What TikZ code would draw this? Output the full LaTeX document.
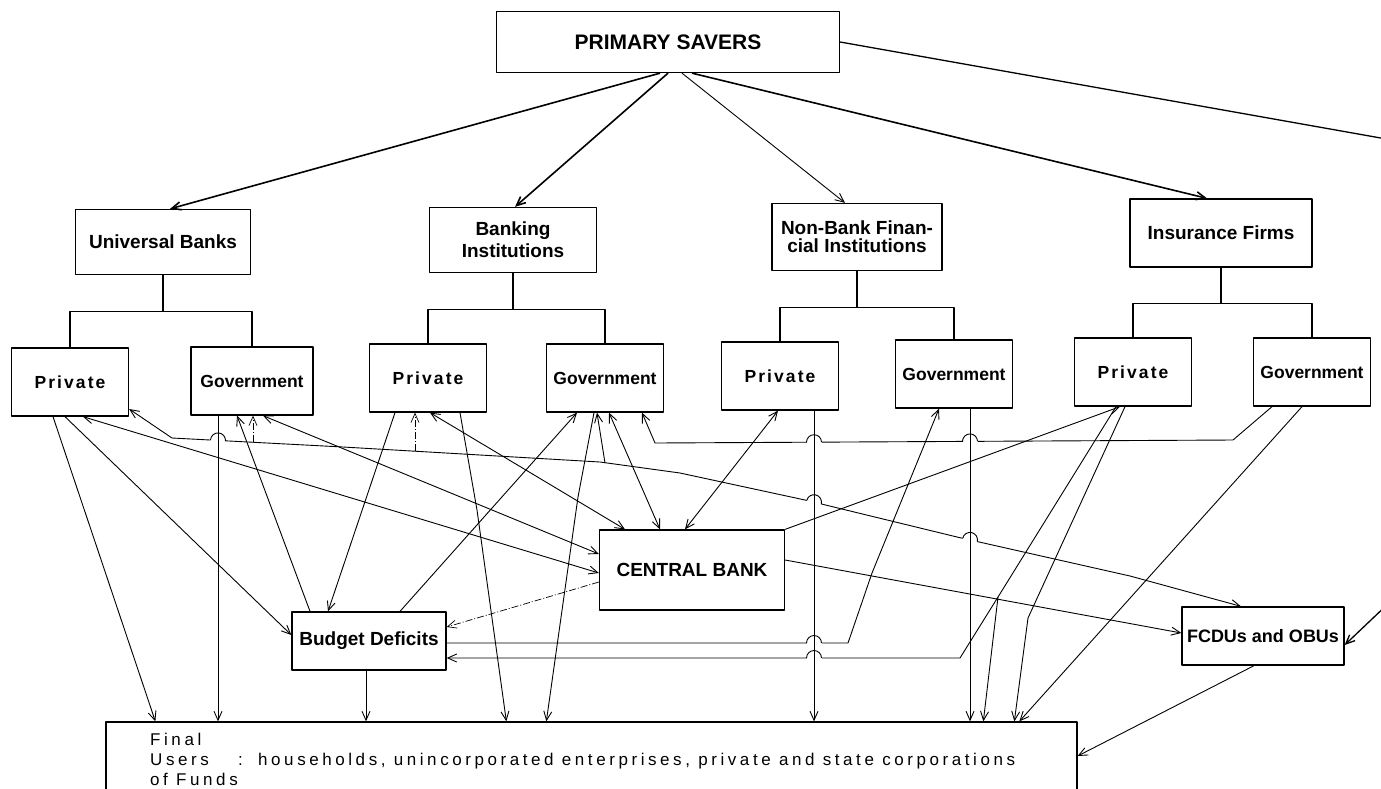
\documentclass[tikz,border=0pt]{standalone}
\usepackage{fontspec}
\setmainfont{Liberation Sans}
\newfontfamily\spaced[LetterSpace=21]{Liberation Sans}
\newfontfamily\airy[LetterSpace=12]{Liberation Sans}
\usetikzlibrary{arrows.meta}

% parent box split into its two halves
\newcommand{\branch}[3]{%
  \draw[tree] (#1.south) -- ++(0,36) coordinate (#1j);
  \draw[tree] (#2.north) |- (#1j) -| (#3.north);}
% line hop over a crossing
\newcommand{\hop}[3]{%
  \begin{scope}[shift={(#1,#2)},rotate=#3]
    \fill[white] (-7.5pt,-1.3pt) rectangle (7.5pt,1.3pt);
    \draw[line width=0.9pt] (-7.5pt,0pt) arc[start angle=180,end angle=0,radius=7.5pt];
  \end{scope}}

\begin{document}
\begin{tikzpicture}[x=1pt,y=-1pt,>={Straight Barb[length=9pt,width=8pt]},
                    line join=round,
                    box/.style={draw,line width=1.3pt,inner sep=0pt,align=center,
                                font=\fontsize{19}{18}\selectfont\bfseries},
                    sub/.style={box,minimum width=117pt,minimum height=68pt,
                                font=\fontsize{17.5}{20}\selectfont\bfseries},
                    lbl/.style={inner sep=0pt,anchor=base west,
                                font=\fontsize{17}{18}\selectfont\spaced},
                    tree/.style={line width=1.3pt},
                    feed/.style={->,line width=1.6pt},
                    flow/.style={->,line width=0.9pt},
                    both/.style={<->,line width=0.9pt},
                    faint/.style={->,line width=0.7pt,
                                  dash pattern=on 7pt off 2pt on 1pt off 2pt}]
  \useasboundingbox (0,0) rectangle (1381,788);

  \node[box,minimum width=343pt,minimum height=61pt,
        font=\fontsize{21}{24}\selectfont\bfseries] (ps) at (668,42) {PRIMARY SAVERS};
  \node[box,minimum width=175pt,minimum height=65pt] (ub)  at (163,242)  {Universal Banks};
  \node[box,minimum width=167pt,minimum height=65pt,
        font=\fontsize{19}{22}\selectfont\bfseries] (bi)  at (513,240)  {Banking\\Institutions};
  \node[box,minimum width=170pt,minimum height=67pt] (nb)  at (857,237)  {Non-Bank Finan-\\cial Institutions};
  \node[box,minimum width=182pt,minimum height=68pt] (ins) at (1221,233) {Insurance Firms};

  \node[sub] (upv) at (70,382)   {\airy Private};
  \node[sub,minimum width=122pt] (ugv) at (252,381) {Government};
  \node[sub] (bpv) at (428,378)  {\airy Private};
  \node[sub] (bgv) at (605,378)  {Government};
  \node[sub] (npv) at (780,376)  {\airy Private};
  \node[sub] (ngv) at (954,374)  {Government};
  \node[sub] (ipv) at (1133,372) {\airy Private};
  \node[sub] (igv) at (1312,372) {Government};

  \node[box,minimum width=185pt,minimum height=80pt] (cb) at (692,570)  {CENTRAL BANK};
  \node[box,minimum width=154pt,minimum height=58pt] (bd) at (369,641)  {Budget Deficits};
  \node[box,minimum width=162pt,minimum height=58pt,
        font=\fontsize{18}{20}\selectfont\bfseries] (fc) at (1263,636) {FCDUs and OBUs};
  \node[box,minimum width=971pt,minimum height=68pt] (fu) at (591.5,756) {};

  \node[lbl] (fin) at (150,745) {Final};
  \node[lbl] (usr) at (150,765) {Users};
  \node[lbl] (off) at (150,785) {of Funds};
  \node[lbl] (col) at (238,765) {:};
  \node[lbl] (lst) at (258,765) {households, unincorporated enterprises, private and state corporations};

  % savers
  \path ([xshift=-8]ps.south)  edge[feed] ([xshift=7]ub.north)
        (ps.south)             edge[feed] ([xshift=2]bi.north)
        ([xshift=14]ps.south)  edge[feed,line width=0.9pt] ([xshift=-12]nb.north)
        ([xshift=24]ps.south)  edge[feed] ([xshift=-14]ins.north);
  \draw[feed,line width=1.3pt] (ps.east) -- (1392,140) -- (1392,600) -- ([yshift=-9]fc.east);

  \branch{ub}{upv}{ugv}
  \branch{bi}{bpv}{bgv}
  \branch{nb}{npv}{ngv}
  \branch{ins}{ipv}{igv}

  % straight flows
  \path ([xshift=-17]upv.south) edge[flow]  ([xshift=50]fu.north west)
        ([xshift=-5]upv.south)  edge[flow]  ([yshift=6]bd.west)
        ([xshift=13]upv.south)  edge[both]  ([yshift=-3]cb.west)
        ([xshift=11]ugv.south)  edge[both]  ([yshift=16]cb.west)
        ([xshift=-59]bd.north)  edge[flow]  ([xshift=-15]ugv.south)
        ([xshift=31]bd.north)   edge[flow]  ([xshift=-28]bgv.south)
        ([xshift=4]bgv.south)   edge[both]  ([xshift=-32]cb.north)
        ([xshift=2]bpv.south)   edge[both]  ([xshift=-67]cb.north)
        ([xshift=-2]npv.south)  edge[both]  ([xshift=-7]cb.north)
        ([xshift=-33]bpv.south) edge[flow]  ([xshift=-41]bd.north)
        (cb.north east)         edge[flow]  ([xshift=-13]ipv.south)
        ([yshift=10]cb.east)    edge[flow]  ([yshift=3]fc.west)
        ([yshift=-12]cb.west)   edge[faint] ([yshift=14]bd.east)
        ([xshift=-10]igv.south) edge[flow]  ([xshift=914]fu.north west)
        ([xshift=-9]fc.south)   edge[flow]  (fu.east);

  \draw[flow] ([xshift=-11]bgv.south) -- (578,497) -- ([xshift=441]fu.north west);
  \draw[flow] ([xshift=32]bpv.south)  -- (477,510) -- ([xshift=401]fu.north west);
  \draw[flow] ([xshift=-17]ipv.south) -- (998,597) coordinate (ipvs) -- ([xshift=878]fu.north west);
  \draw[flow] ([xshift=-8]ipv.south)  -- (1028,618) -- ([xshift=909]fu.north west);

  % cross links
  \draw[flow] (ipvs) -- (960,658) -- ([yshift=-17]bd.east);
  \draw[flow] ([yshift=-2]bd.east) -- (848,643) -- (872,573) -- ([xshift=-15]ngv.south);
  \draw[flow] ([xshift=-40]igv.south) -- (1233,440) -- (655,443) -- ([xshift=37]bgv.south);
  \draw[both] ([yshift=-27]upv.east) -- (172,438) -- (343,447) -- (600,462) -- (680,473)
              -- (805,500) -- (957,537) -- (1130,576) -- ([xshift=-22]fc.north);

  \coordinate (a1) at (253,442);
  \coordinate (a2) at (415,451);
  \coordinate (a3) at (605,463);
  \path (a1) edge[faint] ([xshift=1]ugv.south)
        (a2) edge[faint] ([xshift=-13]bpv.south)
        (a3) edge[flow]  ([xshift=-8]bgv.south);

  % hops where the links pass the drops
  \hop{218}{440.4}{-3}
  \hop{814}{442.2}{0}
  \hop{970}{441.4}{0}
  \hop{814}{502.2}{-14}
  \hop{970}{539.9}{-13}
  \hop{814}{643}{0}
  \hop{814}{658}{0}

  % drops to final users
  \draw[flow] ([xshift=-34]ugv.south) -- ([xshift=-34]ugv.south |- fu.north);
  \draw[flow] ([xshift=-3]bd.south)   -- ([xshift=-3]bd.south |- fu.north);
  \draw[flow] ([xshift=34]npv.south)  -- ([xshift=34]npv.south |- fu.north);
  \draw[flow] ([xshift=16]ngv.south)  -- ([xshift=16]ngv.south |- fu.north);
\end{tikzpicture}
\end{document}
